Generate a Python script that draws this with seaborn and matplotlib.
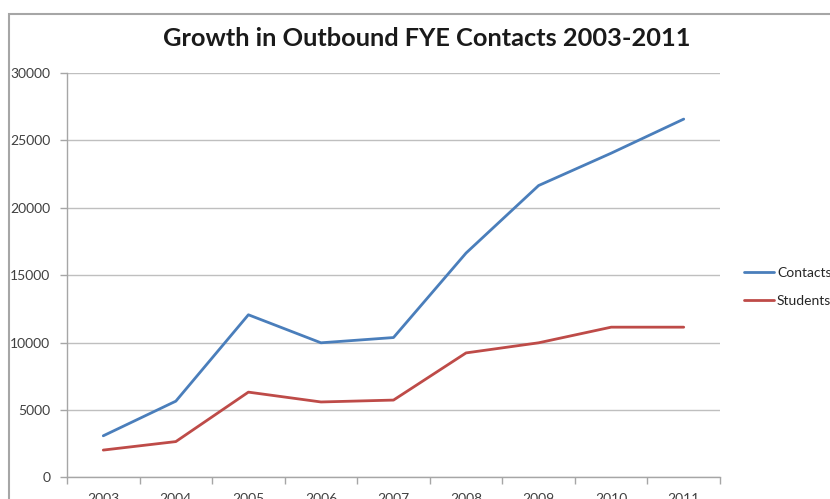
import matplotlib
matplotlib.use("Agg")
import matplotlib.pyplot as plt
from matplotlib.patches import Rectangle
import seaborn as sns
import pandas as pd

years = ["2003", "2004", "2005", "2006", "2007", "2008", "2009", "2010", "2011"]
contacts = [3080, 5650, 12060, 9980, 10370, 16640, 21650, 24050, 26580]
students = [2020, 2650, 6320, 5590, 5730, 9230, 9980, 11140, 11140]
series_names = ["Contacts", "Students"]
yticks = [0, 5000, 10000, 15000, 20000, 25000, 30000]

df = pd.DataFrame({
    "Year": years * 2,
    "Value": contacts + students,
    "Series": [series_names[0]] * len(years) + [series_names[1]] * len(years),
})
df["pos"] = list(range(len(years))) * 2

sns.set_theme(style="white")
plt.rcParams["font.family"] = ["Lato", "DejaVu Sans"]

fig = plt.figure(figsize=(8.30, 4.99), dpi=100)
W, H = 830, 499

# outer chart border
fig.patches.append(Rectangle((9 / W, -0.1), 1.0, 1 - 14 / H + 0.1,
                             transform=fig.transFigure, fill=False,
                             edgecolor="#a6a6a6", linewidth=1.5))

ax = fig.add_axes([67 / W, 1 - 477.3 / H, (720 - 67) / W, (477.3 - 73) / H])
palette = {"Contacts": "#4a7ebb", "Students": "#be4b48"}
sns.lineplot(data=df, x="pos", y="Value", hue="Series", palette=palette,
             linewidth=2.0, ax=ax, legend=False)

ax.set_xlim(-0.5, len(years) - 0.5)
ax.set_ylim(0, 30000)
ax.set_yticks(yticks)
ax.set_yticklabels([str(v) for v in yticks], fontsize=10, color="#404040")
ax.set_xticks(range(len(years)))
ax.set_xticklabels(years, fontsize=10, color="#404040")
ax.set_xticks([i - 0.5 for i in range(len(years) + 1)], minor=True)
ax.tick_params(axis="x", which="major", length=0, pad=11)
ax.tick_params(axis="x", which="minor", length=5, width=1, color="#a6a6a6",
               direction="out", bottom=True)
ax.tick_params(axis="y", length=5, width=1, color="#a6a6a6", direction="out",
               left=True, pad=7)
ax.set_xlabel("")
ax.set_ylabel("")
ax.grid(axis="y", color="#bfbfbf", linewidth=1)
ax.set_axisbelow(True)
for s in ["top", "right"]:
    ax.spines[s].set_visible(False)
for s in ["left", "bottom"]:
    ax.spines[s].set_color("#a6a6a6")
    ax.spines[s].set_linewidth(1)

fig.text(427 / W, 1 - 38 / H, "Growth in Outbound FYE Contacts 2003-2011",
         ha="center", va="center", fontsize=18.3, fontweight="bold", color="#1a1a1a")

# legend drawn at the right, outside the plot area
handles = [plt.Line2D([], [], color=palette[n], linewidth=2.0) for n in series_names]
fig.legend(handles, series_names, loc="upper left",
           bbox_to_anchor=(738 / W, 1 - 261 / H), frameon=False,
           fontsize=10, handlelength=2.2, handletextpad=0.2,
           labelspacing=1.2, borderaxespad=0)

fig.savefig("out.png", dpi=100)
